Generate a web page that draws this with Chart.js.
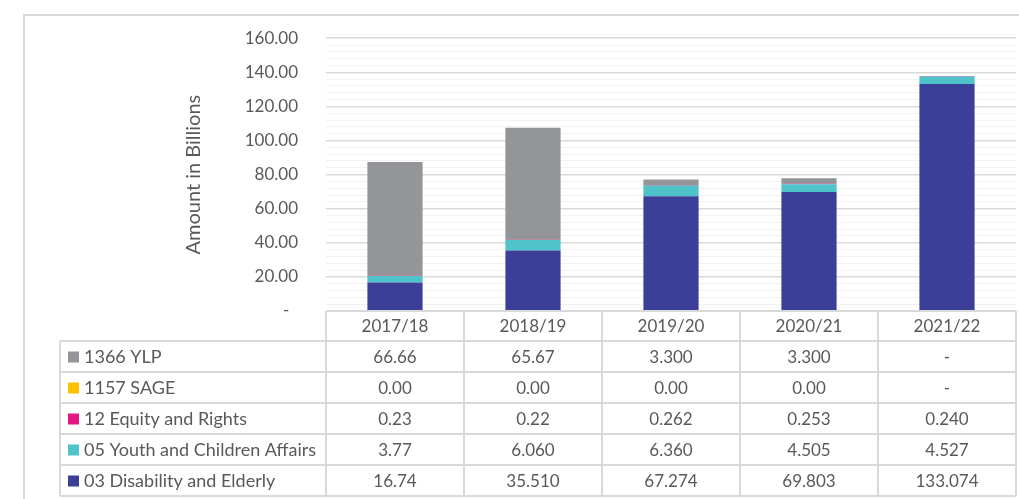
<!DOCTYPE html>
<html lang="en">
<head>
    <meta charset="UTF-8">
    <title>Amount in Billions by Programme</title>
    <script src="https://cdn.jsdelivr.net/npm/chart.js"></script>
    <style>
        body { margin: 0; background: #fff; font-family: Lato, sans-serif; }
        #wrap { width: 1019px; height: 499px; }
    </style>
</head>
<body>
<div id="wrap"><canvas id="chartCanvas"></canvas></div>
<script>
    // Dados (valores como aparecem na tabela)
    const categories = ['2017/18', '2018/19', '2019/20', '2020/21', '2021/22'];
    const disability = ['16.74', '35.510', '67.274', '69.803', '133.074'];
    const youth = ['3.77', '6.060', '6.360', '4.505', '4.527'];
    const equity = ['0.23', '0.22', '0.262', '0.253', '0.240'];
    const sage = ['0.00', '0.00', '0.00', '0.00', '-'];
    const ylp = ['66.66', '65.67', '3.300', '3.300', '-'];

    const seriesNames = ['03 Disability and Elderly', '05 Youth and Children Affairs', '12 Equity and Rights', '1157 SAGE', '1366 YLP'];
    const seriesColors = ['#3b3f98', '#4fc3ca', '#e2177f', '#ffc000', '#939598'];
    const seriesValues = [disability, youth, equity, sage, ylp];

    const yMax = 160;
    const yStep = 20;

    const textColor = '#595959';
    const lineColor = '#d9d9d9';

    const toNum = v => v === '-' ? 0 : parseFloat(v);

    const dataTable = {
        id: 'dataTable',
        afterDraw(chart) {
            const { ctx, chartArea } = chart;
            const x = chart.scales.x;
            const half = (x.getPixelForValue(1) - x.getPixelForValue(0)) / 2;
            const left = chartArea.left, right = chartArea.right;
            const top = chartArea.bottom;
            const headH = 30, rowH = 31, labelLeft = 60;
            const rows = seriesNames.length;
            const bottom = top + headH + rowH * rows;

            ctx.save();
            ctx.strokeStyle = lineColor;
            ctx.lineWidth = 2;

            // contorno externo
            ctx.strokeRect(24, 15, 1100, 600);

            // linhas horizontais
            ctx.beginPath();
            ctx.moveTo(left, top); ctx.lineTo(right, top);
            for (let r = 0; r <= rows; r++) {
                const y = top + headH + r * rowH;
                ctx.moveTo(labelLeft, y); ctx.lineTo(right, y);
            }
            // linhas verticais
            categories.forEach((c, i) => {
                const xr = x.getPixelForValue(i) + half;
                ctx.moveTo(xr, top); ctx.lineTo(xr, bottom);
            });
            ctx.moveTo(left, top); ctx.lineTo(left, bottom);
            ctx.moveTo(labelLeft, top + headH); ctx.lineTo(labelLeft, bottom);
            ctx.stroke();

            ctx.fillStyle = textColor;
            ctx.font = '17px Lato';
            ctx.textBaseline = 'middle';
            ctx.textAlign = 'center';
            categories.forEach((c, i) => {
                ctx.fillText(c, x.getPixelForValue(i), top + headH / 2 + 1);
            });

            for (let r = 0; r < rows; r++) {
                const s = rows - 1 - r; // tabela de cima para baixo = ordem inversa da pilha
                const yc = top + headH + r * rowH + rowH / 2 + 1;
                ctx.fillStyle = seriesColors[s];
                ctx.fillRect(68, yc - 6, 11, 11);
                ctx.fillStyle = textColor;
                ctx.textAlign = 'left';
                ctx.font = '18px Lato';
                ctx.fillText(seriesNames[s], 84, yc);
                ctx.textAlign = 'center';
                ctx.font = '17px Lato';
                seriesValues[s].forEach((v, i) => {
                    ctx.fillText(v, x.getPixelForValue(i), yc);
                });
            }
            ctx.restore();
        }
    };

    new Chart(document.getElementById('chartCanvas'), {
        type: 'bar',
        data: {
            labels: categories,
            datasets: seriesNames.map((name, i) => ({
                label: name,
                data: seriesValues[i].map(toNum),
                backgroundColor: seriesColors[i],
                borderWidth: 0,
                barPercentage: 0.4,
                categoryPercentage: 1
            }))
        },
        options: {
            responsive: true,
            maintainAspectRatio: false,
            animation: false,
            layout: { padding: { top: 38, right: 3, bottom: 188, left: 0 } },
            plugins: { legend: { display: false }, tooltip: { enabled: false } },
            scales: {
                x: { stacked: true, display: false },
                y: {
                    stacked: true,
                    min: 0,
                    max: yMax,
                    border: { display: false },
                    grid: {
                        drawTicks: false,
                        color: c => (c.tick.value % yStep === 0) ? '#d9d9d9' : '#f2f2f2',
                        lineWidth: c => (c.tick.value % yStep === 0) ? 1.5 : 1
                    },
                    ticks: {
                        stepSize: 4,
                        autoSkip: false,
                        padding: 28,
                        color: textColor,
                        font: { family: 'Lato', size: 17 },
                        callback: v => v === 0 ? '-  ' : (v % yStep === 0 ? v.toFixed(2) : '')
                    },
                    title: {
                        display: true,
                        text: 'Amount in Billions',
                        color: textColor,
                        font: { family: 'Lato', size: 20 },
                        padding: { top: 182, bottom: 0 }
                    },
                    afterFit(scale) { scale.width = 326; }
                }
            }
        },
        plugins: [dataTable]
    });
</script>
</body>
</html>
